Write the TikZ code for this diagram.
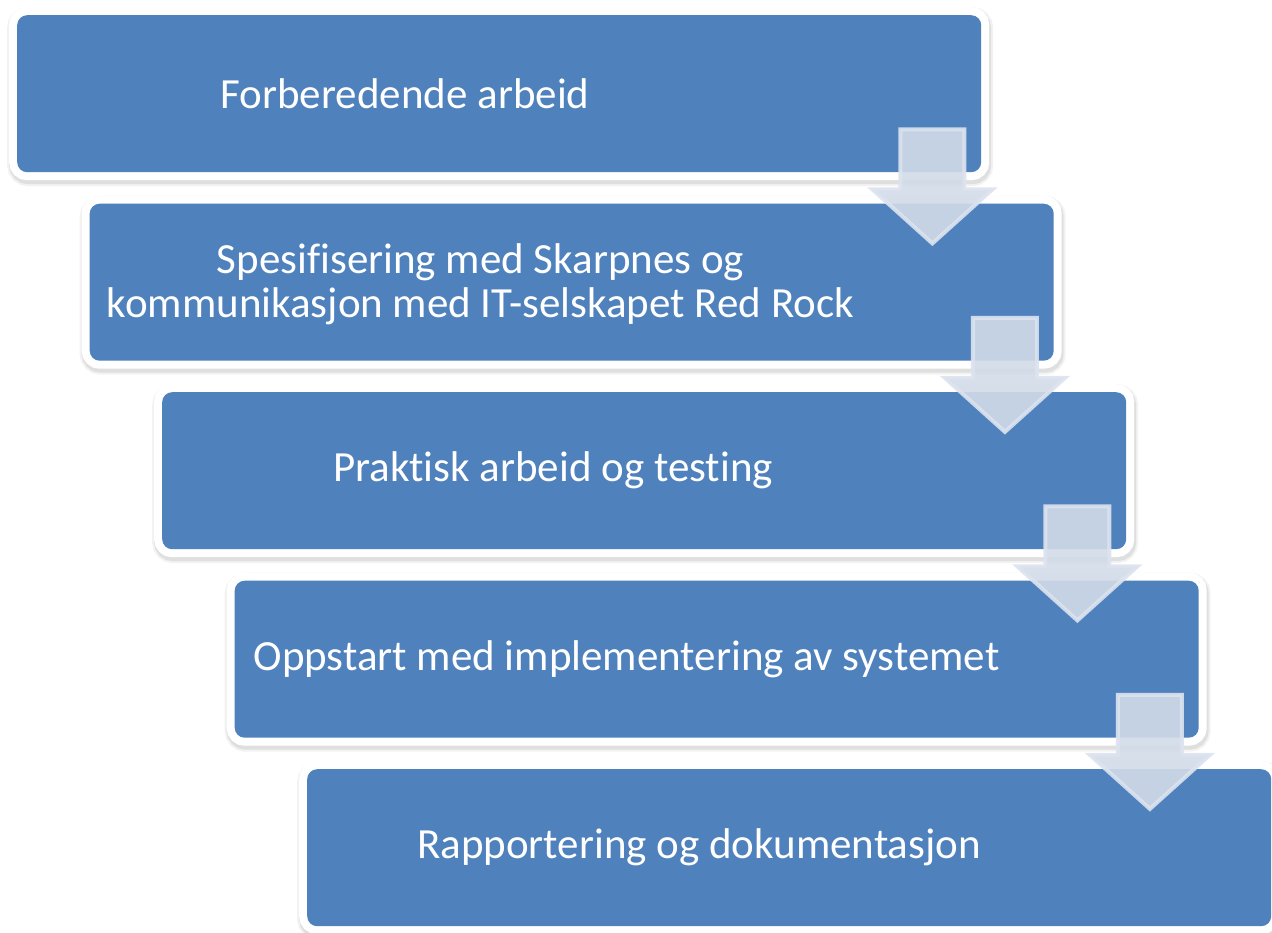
\documentclass[tikz,border=0pt]{standalone}
\usepackage{fontspec}
\setmainfont{Carlito}[Ligatures=NoCommon]
\usetikzlibrary{calc}
\definecolor{boxblue}{HTML}{4F81BD}
\definecolor{arrowfill}{HTML}{D2DBE8}
\definecolor{arrowedge}{HTML}{DCE3EF}
\tikzset{
  stepbox/.style={
    rectangle, rounded corners=10pt, minimum width=964, minimum height=157,
    inner sep=0pt, anchor=north west,
    preaction={draw=black, draw opacity=0.05, line width=22pt, transform canvas={shift={(1pt,-3pt)}}},
    preaction={draw=black, draw opacity=0.08, line width=18pt, transform canvas={shift={(1pt,-3pt)}}},
    preaction={draw=white, line width=16pt},
    fill=boxblue},
  steptext/.style={text=white, font=\fontsize{43}{44}\selectfont, align=center, inner sep=0pt},
  dnarrow/.pic={
    \path[fill=arrowfill, fill opacity=0.9, draw=arrowedge, draw opacity=0.9, line width=4pt, line join=miter]
      (-32,-114) -- (32,-114) -- (32,-54) -- (60,-54) -- (0,0) -- (-60,-54) -- (-32,-54) -- cycle;
  }
}
\begin{document}
\begin{tikzpicture}[x=1pt,y=-1pt]
\useasboundingbox (0,0) rectangle (1272,933);
\node[stepbox] (b1) at (17,15) {};
\node[stepbox] (b2) at (89.5,203.5) {};
\node[stepbox] (b3) at (162,392) {};
\node[stepbox] (b4) at (234.5,580.5) {};
\node[stepbox] (b5) at (307,769) {};
\node[steptext] (t1) at ($(b1.west)+(388,0)$) {Forberedende arbeid};
\node[steptext] (t2) at ($(b2.west)+(391,2)$) {Spesifisering med Skarpnes og\\kommunikasjon med IT-selskapet Red Rock};
\node[steptext] (t3) at ($(b3.west)+(391,0)$) {Praktisk arbeid og testing};
\node[steptext] (t4) at ($(b4.west)+(392,0)$) {Oppstart med implementering av systemet};
\node[steptext] (t5) at ($(b5.west)+(392,0)$) {Rapportering og dokumentasjon};
\path ($(b1.south east)+(-49,71)$) pic {dnarrow};
\path ($(b2.south east)+(-49,71)$) pic {dnarrow};
\path ($(b3.south east)+(-49,71)$) pic {dnarrow};
\path ($(b4.south east)+(-49,71)$) pic {dnarrow};
\end{tikzpicture}
\end{document}
